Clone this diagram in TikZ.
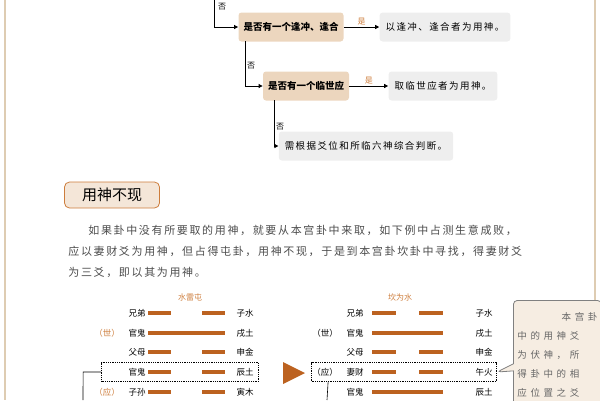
\documentclass[tikz,border=0pt]{standalone}
\usepackage{fontspec}
\setmainfont{Noto Sans CJK SC}
\usetikzlibrary{positioning,shapes.callouts,arrows.meta}
\definecolor{tan}{RGB}{236,214,190}
\definecolor{grayb}{RGB}{238,238,238}
\definecolor{bar}{RGB}{188,98,32}
\definecolor{rim}{RGB}{222,204,178}
\definecolor{ornt}{RGB}{205,125,60}
\begin{document}
\begin{tikzpicture}[x=1pt,y=-1pt,>={Triangle[length=4pt,width=4pt]},thick]

     \tikzstyle{ask}=[rounded corners=3pt,fill=tan,font=\bfseries\fontsize{9.5}{10}\selectfont,minimum height=29pt,inner xsep=5pt]
     \tikzstyle{ans}=[rounded corners=3pt,fill=grayb,font=\fontsize{9.5}{10}\selectfont\addfontfeatures{LetterSpace=15},minimum height=29pt,inner xsep=6pt]
     \tikzstyle{lab}=[font=\fontsize{8}{9}\selectfont,inner sep=1pt]
     \tikzstyle{yes}=[lab,text=ornt]
     \tikzstyle{qin}=[font=\fontsize{8.5}{9}\selectfont,inner sep=1pt]
     \tikzstyle{seg}=[line width=4.5pt,draw=bar]

      \useasboundingbox (0,0) rectangle (600,400);
      \draw[rim,line width=2pt] (5,0) -- (5,400);
      \draw[rim,line width=2pt] (595,0) -- (595,400);

      % flow
      \node[ask] (q1) at (291,27) {是否有一个逢冲、逢合};
      \node[ans] (a1) at (445,27) {以逢冲、逢合者为用神。};
      \node[ask] (q2) at (306,86) {是否有一个临世应};
      \node[ans] (a2) at (443,86) {取临世应者为用神。};
      \node[ans] (a3) at (366,146) {需根据爻位和所临六神综合判断。};
      \coordinate (s0) at (214,0);
      \coordinate (s1) at (245,41);
      \coordinate (s2) at (274,100);

      \draw[->] (s0) |- (q1);
      \draw[->] (s1) |- (q2);
      \draw[->] (s2) |- (a3);
      \draw[->] (q1) -- node[yes,above] {是} (a1);
      \draw[->] (q2) -- node[yes,above] {是} (a2);
      \node[lab] at (222,7) {否};
      \node[lab] at (251,66) {否};
      \node[lab] at (280,127) {否};

      % title and text
      \node[rounded corners=5pt,draw=ornt,fill=tan!60,font=\fontsize{15}{16}\selectfont,minimum width=95pt,minimum height=26pt] (ttl) at (112,195) {用神不现};
      \node[anchor=west,font=\fontsize{11}{21}\selectfont\addfontfeatures{LetterSpace=15},text width=530pt,inner sep=0pt,align=left,text=black!70] (para) at (68,251)
        {\hspace*{20pt}如果卦中没有所要取的用神，就要从本宫卦中来取，如下例中占测生意成败，\\应以妻财爻为用神，但占得屯卦，用神不现，于是到本宫卦坎卦中寻找，得妻财爻\\为三爻，即以其为用神。};

      % hexagrams
      \node[yes] (h1) at (190,297) {水雷屯};
      \node[yes] (h2) at (400,297) {坎为水};
      \foreach \y/\l/\r/\t in {313/兄弟/子水/0,333/官鬼/戌土/1,352/父母/申金/0,372/官鬼/辰土/0,392/子孙/寅木/0}{
         \node[qin] at (137,\y) {\l};
         \node[qin] at (245,\y) {\r};
         \ifnum\t=1 \draw[seg] (148,\y) -- (225,\y); \else
         \draw[seg] (148,\y) -- (171,\y); \draw[seg] (202,\y) -- (225,\y); \fi
      }
      \foreach \y/\l/\r/\t in {313/兄弟/子水/0,333/官鬼/戌土/1,352/父母/申金/0,372/妻财/午火/0,392/官鬼/辰土/1}{
         \node[qin] at (355,\y) {\l};
         \node[qin] at (484,\y) {\r};
         \ifnum\t=1 \draw[seg] (372,\y) -- (443,\y); \else
         \draw[seg] (372,\y) -- (396,\y); \draw[seg] (419,\y) -- (443,\y); \fi
      }
      \node[qin,text=ornt] at (107,333) {（世）};
      \node[qin,text=ornt] at (107,392) {（应）};
      \node[qin] at (325,333) {（世）};
      \node[qin] at (325,372) {（应）};

      \node[draw,densely dotted,minimum width=157pt,minimum height=19pt] (d1) at (180,372) {};
      \node[draw,densely dotted,minimum width=185pt,minimum height=19pt] (d2) at (404,372) {};
      \fill[bar] (283,362) -- (305,373) -- (283,384) -- cycle;
      \coordinate (e1) at (83,400);
      \coordinate (e2) at (327,400);
      \draw[semithick] (d1.west) -- ++(-18,0) -- (e1);
      \draw[semithick] (d2.south west) ++(17,0) -- (e2);

      % note
      \node[rectangle callout,callout absolute pointer={(497,372)},rounded corners=4pt,draw=black!50,fill=tan!45,
            font=\fontsize{9.5}{19}\selectfont\addfontfeatures{LetterSpace=38},text=black!60,text width=80pt,align=left,inner xsep=4pt,inner ysep=12pt,minimum height=104pt,anchor=north west] (note) at (513,300)
        {\hfill 本宫卦\\中的用神爻\\为伏神，所\\得卦中的相\\应位置之爻};

  \end{tikzpicture}
\end{document}
